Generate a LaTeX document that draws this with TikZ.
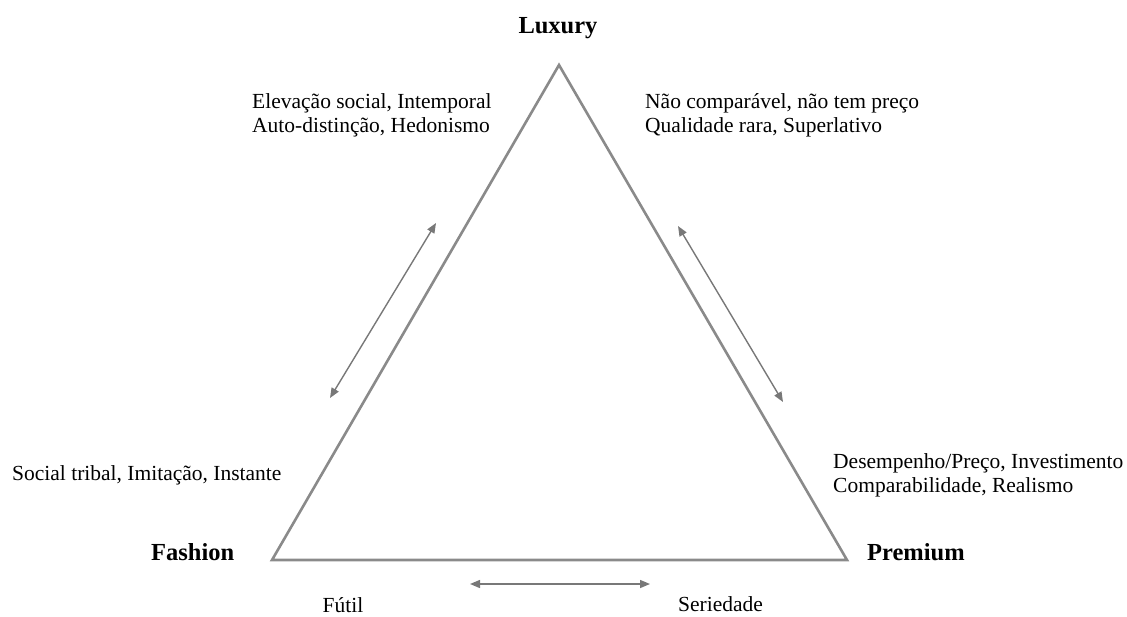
\documentclass[tikz,border=0pt]{standalone}
\usepackage{fontspec}
\setmainfont{Liberation Serif}
\usepackage{xcolor}
\usetikzlibrary{arrows.meta}

\definecolor{edgegray}{RGB}{138,138,138}
\definecolor{arrowgray}{RGB}{120,120,120}

\begin{document}
\begin{tikzpicture}[x=1pt,y=-1pt,
  side/.style={draw=edgegray,line width=2.6pt},
  swing/.style={draw=arrowgray,line width=1.4pt,{Triangle[length=10pt,width=8pt]}-{Triangle[length=10pt,width=8pt]}},
  corner/.style={font=\fontsize{24.5}{28}\selectfont\bfseries,inner sep=0pt},
  words/.style={font=\fontsize{21.5}{24}\selectfont,inner sep=0pt,align=left}]

\useasboundingbox (0,0) rectangle (1127,616);

% the triangle
\coordinate (lux) at (559,65);
\coordinate (fas) at (272,560);
\coordinate (pre) at (847,560);
\draw[side] (lux) -- (fas) -- (pre) -- cycle;

% corner names
\node[corner,anchor=base] (luxname) at (558,33) {Luxury};
\node[corner,anchor=base west] (fasname) at (151,560) {Fashion};
\node[corner,anchor=base west] (prename) at (867,560) {Premium};

% values
\node[words,anchor=north west] (luxleft) at (252,93) {Elevação social, Intemporal\\Auto-distinção, Hedonismo};
\node[words,anchor=north west] (luxright) at (645,93) {Não comparável, não tem preço\\Qualidade rara, Superlativo};
\node[words,anchor=base west] (fasvals) at (12,480) {Social tribal, Imitação, Instante};
\node[words,anchor=north west] (prevals) at (833,453) {Desempenho/Preço, Investimento\\Comparabilidade, Realismo};
\node[words,anchor=base] (futil) at (343,612) {Fútil};
\node[words,anchor=base west] (seried) at (678,611) {Seriedade};

% tensions
\coordinate (la) at (330,398);
\coordinate (lb) at (436,223);
\coordinate (ra) at (678,226);
\coordinate (rb) at (783,402);
\coordinate (ba) at (470,584);
\coordinate (bb) at (650,584);
\draw[swing] (la) -- (lb);
\draw[swing] (ra) -- (rb);
\draw[swing] (ba) -- (bb);

\end{tikzpicture}
\end{document}
